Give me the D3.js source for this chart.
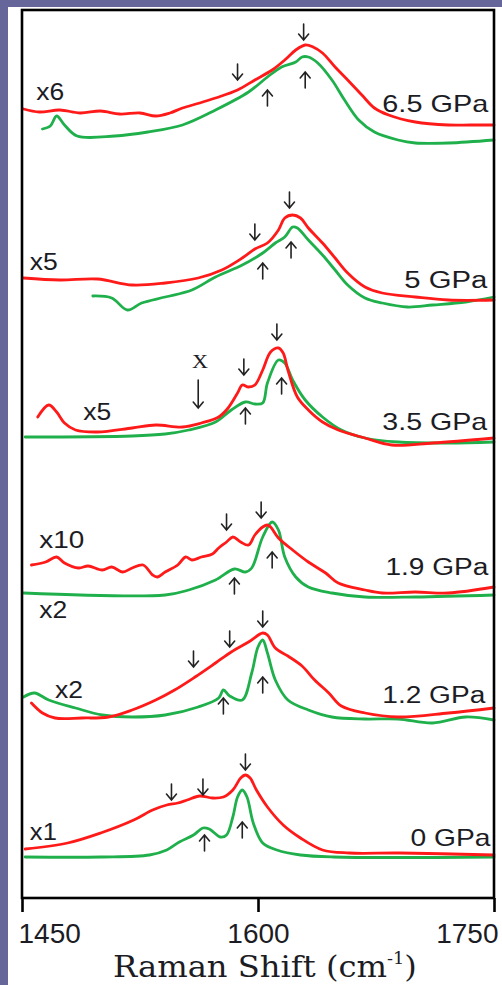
<!DOCTYPE html>
<html>
<head>
<meta charset="utf-8">
<script src="https://cdn.jsdelivr.net/npm/d3@7"></script>
<style>
  html, body { margin: 0; padding: 0; background: #66669a; }
  svg { display: block; }
</style>
</head>
<body>
<svg id="chart" width="502" height="985"></svg>
<script>
// ---------- DATA (wavenumber cm^-1, stacked intensity a.u.) ----------
const xTicks = [1450, 1600, 1750];

const red65 = [[1451,789],[1461,786],[1474,788],[1487,785],[1500,787],[1512,784],[1525,785],[1535,782],[1544,785],[1552,790],[1563,795],[1573,800],[1587,808],[1598,818],[1609,828],[1617,838],[1624,848],[1630,853],[1635,851],[1641,845],[1649,831],[1657,818],[1666,803],[1674,790],[1683,783],[1700,776],[1721,773],[1735,773],[1750,773]];
const green65 = [[1463,769],[1468,772],[1472,782],[1477,773],[1485,762],[1509,762],[1530,766],[1552,773],[1573,788],[1594,806],[1606,821],[1615,831],[1624,836],[1628,841],[1632,841],[1638,835],[1647,818],[1655,798],[1664,778],[1674,766],[1689,758],[1700,755],[1721,755],[1750,758]];

const red5 = [[1451,620],[1474,618],[1498,619],[1520,613],[1541,615],[1562,620],[1577,628],[1590,640],[1598,649],[1606,655],[1613,668],[1617,680],[1622,683],[1627,680],[1632,670],[1641,655],[1649,640],[1657,625],[1668,611],[1679,605],[1700,601],[1721,598],[1750,598]];
const green5 = [[1495,602],[1507,600],[1517,588],[1526,595],[1541,601],[1558,608],[1573,621],[1590,633],[1603,645],[1611,655],[1617,661],[1622,671],[1625,670],[1632,658],[1641,643],[1649,628],[1657,613],[1668,600],[1679,595],[1695,591],[1711,593],[1732,596],[1750,601]];

const red35 = [[1460,481],[1467,493],[1472,486],[1477,475],[1484,468],[1498,466],[1520,470],[1535,473],[1552,471],[1564,475],[1575,481],[1581,490],[1587,505],[1590,513],[1594,511],[1598,513],[1603,528],[1608,546],[1613,550],[1616,545],[1619,528],[1625,501],[1632,488],[1641,476],[1651,468],[1668,460],[1685,453],[1711,455],[1750,460]];
const green35 = [[1452,461],[1520,462],[1541,464],[1556,468],[1573,476],[1583,488],[1592,496],[1598,494],[1603,495],[1606,515],[1613,538],[1617,535],[1622,518],[1630,498],[1641,481],[1653,468],[1668,460],[1689,456],[1721,455],[1750,456]];

const red19 = [[1456,333],[1465,336],[1472,341],[1477,335],[1486,330],[1492,332],[1501,328],[1507,331],[1514,326],[1520,330],[1527,333],[1533,323],[1536,321],[1541,326],[1549,333],[1554,341],[1558,338],[1564,341],[1571,344],[1575,350],[1580,356],[1584,361],[1589,356],[1594,353],[1598,363],[1603,371],[1606,373],[1608,371],[1613,360],[1622,348],[1632,336],[1643,325],[1651,315],[1668,308],[1679,305],[1700,306],[1721,305],[1750,311]];
const green19 = [[1451,305],[1541,303],[1556,308],[1573,318],[1585,329],[1592,326],[1596,330],[1603,361],[1609,376],[1613,368],[1617,341],[1624,321],[1632,311],[1647,305],[1668,301],[1700,301],[1750,303]];

const red12 = [[1456,195],[1463,185],[1471,180],[1488,180],[1505,181],[1520,188],[1535,198],[1547,208],[1560,221],[1573,235],[1583,246],[1594,256],[1603,265],[1606,263],[1611,250],[1619,242],[1628,232],[1636,218],[1645,205],[1653,192],[1668,185],[1689,181],[1721,185],[1750,190]];
const green12 = [[1451,201],[1458,205],[1467,198],[1484,190],[1501,183],[1520,181],[1541,183],[1562,191],[1575,200],[1578,208],[1582,202],[1590,198],[1596,225],[1600,251],[1603,258],[1606,245],[1611,218],[1619,198],[1632,188],[1647,181],[1668,179],[1689,179],[1711,175],[1732,181],[1750,178]];

const red0 = [[1452,49],[1479,55],[1500,65],[1521,78],[1533,88],[1542,93],[1549,95],[1555,98],[1563,102],[1571,100],[1578,101],[1584,108],[1589,120],[1592,123],[1595,120],[1599,108],[1606,91],[1616,73],[1627,60],[1641,48],[1658,45],[1690,45],[1750,43]];
const green0 = [[1452,41],[1500,41],[1531,43],[1542,48],[1550,56],[1559,63],[1565,70],[1569,69],[1576,61],[1580,63],[1584,81],[1587,101],[1590,108],[1593,101],[1597,75],[1603,55],[1612,48],[1627,43],[1648,41],[1750,41]];

const redSeries = [red65, red5, red35, red19, red12, red0];
const greenSeries = [green65, green5, green35, green19, green12, green0];

// arrow markers: [wavenumber, tip intensity]
const downArrows = [[1587,818],[1629,858],[1598,658],[1620,690],[1591,523],[1612,558],[1580,368],[1602,380],[1559,231],[1582,251],[1603,271],[1545,98],[1565,103],[1592,128]];
const upArrows = [[1606,808],[1630,826],[1603,635],[1621,656],[1592,490],[1615,520],[1585,320],[1609,346],[1578,200],[1603,221],[1566,63],[1590,76]];
const longDownArrows = [[1562,490]];

// labels: [text, wavenumber (left), intensity (baseline)]
const pressureLabels = [["6.5 GPa",1679,786],["5 GPa",1693,610],["3.5 GPa",1679,468],["1.9 GPa",1681,323],["1.2 GPa",1679,195],["0 GPa",1697,52]];
const scaleLabels = [["x6",1459,798],["x5",1455,628],["x5",1489,478],["x10",1461,350],["x2",1461,280],["x2",1471,200],["x1",1455,58]];
const markLabels = [["X",1558,530]];

// ---------- LAYOUT ----------
const W = 502, H = 985;
const plot = {left: 22, top: 10, right: 494, bottom: 898};
const svg = d3.select("#chart");

svg.append("rect").attr("x", 8).attr("y", 7).attr("width", W - 8).attr("height", H - 7).attr("fill", "#ffffff");

const x = d3.scaleLinear().domain([1450, 1750]).range([plot.left, plot.right]);
const y = d3.scaleLinear().domain([0, 888]).range([plot.bottom, plot.top]);

const line = d3.line().x(d => x(d[0])).y(d => y(d[1])).curve(d3.curveCatmullRom.alpha(0.5));

const curves = svg.append("g").attr("fill", "none").attr("stroke-width", 2.8).attr("stroke-linejoin", "round").attr("stroke-linecap", "round");
curves.selectAll("path.g").data(greenSeries).join("path").attr("class", "g").attr("d", line).attr("stroke", "#1fb04c");
curves.selectAll("path.r").data(redSeries).join("path").attr("class", "r").attr("d", line).attr("stroke", "#ff1a1a");

// arrows
const arrowG = svg.append("g").attr("stroke", "#222").attr("stroke-width", 1.6).attr("fill", "none").attr("stroke-linecap", "round");
function arrow(d, dir, len) {
  const tx = x(d[0]), ty = y(d[1]);
  const s = dir; // +1 = down arrow (tail above tip), -1 = up arrow
  const p = d3.path();
  p.moveTo(tx, ty - s * len); p.lineTo(tx, ty);
  p.moveTo(tx - 5, ty - s * 6); p.lineTo(tx, ty); p.lineTo(tx + 5, ty - s * 6);
  return p.toString();
}
arrowG.selectAll("path.dn").data(downArrows).join("path").attr("class", "dn").attr("d", d => arrow(d, 1, 16));
arrowG.selectAll("path.up").data(upArrows).join("path").attr("class", "up").attr("d", d => arrow(d, -1, 16));
arrowG.selectAll("path.ld").data(longDownArrows).join("path").attr("class", "ld").attr("d", d => arrow(d, 1, 28));

// fitted text helper (reference text is horizontally stretched)
function fitText(g, str, px, py, size, family, width, anchor) {
  const holder = g.append("g").attr("transform", `translate(${px},${py})`);
  const t = holder.append("text").attr("x", 0).attr("y", 0)
    .attr("font-family", family).attr("font-size", size).attr("fill", "#1c1c24")
    .attr("text-anchor", anchor || "start").text(str);
  const w = t.node().getComputedTextLength();
  if (width && w > 0) holder.attr("transform", `translate(${px},${py}) scale(${width / w},1)`);
  return t;
}

const labG = svg.append("g");
const gpaW = {"6.5 GPa":106, "5 GPa":83, "3.5 GPa":105, "1.9 GPa":103, "1.2 GPa":103, "0 GPa":80};
pressureLabels.forEach(d => fitText(labG, d[0], x(d[1]), y(d[2]), 23, "Liberation Sans, Arial, sans-serif", gpaW[d[0]]));
const sclW = {"x6":28, "x5":28, "x10":45, "x2":28, "x1":27};
scaleLabels.forEach(d => fitText(labG, d[0], x(d[1]), y(d[2]), 23, "Liberation Sans, Arial, sans-serif", sclW[d[0]]));
markLabels.forEach(d => fitText(labG, d[0], x(d[1]), y(d[2]), 19, "Liberation Serif, Times New Roman, serif", 16));

// frame
svg.append("rect").attr("x", plot.left).attr("y", plot.top)
  .attr("width", plot.right - plot.left).attr("height", plot.bottom - plot.top)
  .attr("fill", "none").attr("stroke", "#000").attr("stroke-width", 2.6);

// x axis
const axis = d3.axisBottom(x).tickValues(xTicks).tickSize(14).tickSizeOuter(0).tickFormat(d3.format("d"));
const axG = svg.append("g").attr("transform", `translate(0,${plot.bottom})`).call(axis);
axG.select(".domain").remove();
axG.selectAll(".tick line").attr("stroke", "#000").attr("stroke-width", 2.6);
axG.selectAll(".tick text")
  .attr("font-family", "Liberation Sans, Arial, sans-serif").attr("font-size", 28).attr("fill", "#1c1c24")
  .attr("y", 45).attr("dy", 0)
  .attr("text-anchor", (d, i, n) => i === 0 ? "start" : (i === n.length - 1 ? "end" : "middle"))
  .attr("dx", (d, i, n) => i === 0 ? -4 : (i === n.length - 1 ? 4 : 0));

// axis title
const titleHolder = svg.append("g").attr("transform", `translate(113,977)`);
const title = titleHolder.append("text").attr("font-family", "DejaVu Serif, serif").attr("font-size", 29).attr("fill", "#1c1c24");
title.append("tspan").text("Raman Shift (cm");
title.append("tspan").attr("font-size", 16).attr("dy", -13).text("-1");
title.append("tspan").attr("dy", 13).text(")");
const tw = title.node().getBBox().width;
titleHolder.attr("transform", `translate(113,977) scale(${304 / tw},1)`);
</script>
</body>
</html>
